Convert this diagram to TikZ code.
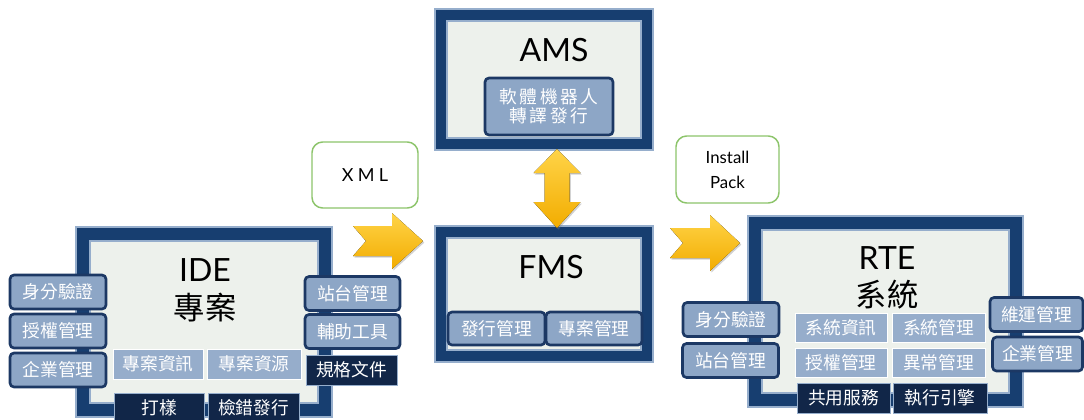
\documentclass[tikz,border=0pt]{standalone}
\usepackage{fontspec}
\setmainfont{Lato}
\newfontfamily\cjk{Noto Sans CJK TC}
\newfontfamily\cjkwide[LetterSpace=15]{Noto Sans CJK TC}
\newfontfamily\spaced[LetterSpace=24]{Lato}
\usetikzlibrary{shadows}

\definecolor{navy}{RGB}{23,62,112}
\definecolor{edge}{RGB}{150,174,204}
\definecolor{panelbg}{RGB}{237,241,236}
\definecolor{steel}{RGB}{141,166,198}
\definecolor{sideline}{RGB}{28,56,100}
\definecolor{flat}{RGB}{150,173,203}
\definecolor{deep}{RGB}{17,38,72}
\definecolor{leaf}{RGB}{140,196,106}
\definecolor{goldtop}{RGB}{255,212,72}
\definecolor{goldbot}{RGB}{242,172,0}

\tikzset{
  wh/.style 2 args={minimum width=#1*0.75pt,minimum height=#2*0.75pt},
  frame/.style={draw=edge,line width=1.4pt,fill=navy,inner sep=0pt},
  panel/.style={draw=edge,line width=1.2pt,fill=panelbg,inner sep=0pt},
  sidebox/.style={draw=sideline,line width=2pt,fill=steel,rounded corners=3pt,text=white,
    font=\cjk\fontsize{13.3}{16}\selectfont,inner sep=0pt},
  flatbox/.style={draw=white,line width=0.6pt,fill=flat,text=white,
    font=\cjk\fontsize{13.3}{16}\selectfont,inner sep=0pt},
  darkbox/.style={draw=edge,line width=0.6pt,fill=deep,text=white,
    font=\cjk\fontsize{13.3}{16}\selectfont,inner sep=0pt},
  title/.style={font=\fontsize{24}{28}\selectfont,inner sep=0pt},
  cjktitle/.style={font=\cjk\fontsize{23.5}{28}\selectfont,inner sep=0pt},
  tag/.style={draw=leaf,line width=1.1pt,fill=white,rounded corners=8pt,inner sep=0pt,align=center},
  goldarrow/.style={top color=goldtop,bottom color=goldbot,draw=none,
    drop shadow={opacity=0.35,shadow xshift=1pt,shadow yshift=-1.2pt}}
}

\begin{document}
\begin{tikzpicture}[x=0.75pt,y=0.75pt,yscale=-1,xscale=1]
\useasboundingbox (0,0) rectangle (1084,419);

%Shape: IDE frame
\node[frame,wh={256}{190}] (ide) at (204,322) {};
\node[panel,wh={228}{162}] (ideIn) at (ide.center) {};
%Shape: AMS frame
\node[frame,wh={218}{141}] (ams) at (544,79.5) {};
\node[panel,wh={194}{117}] (amsIn) at (ams.center) {};
%Shape: FMS frame
\node[frame,wh={218}{136}] (fms) at (544,294) {};
\node[panel,wh={194}{112}] (fmsIn) at (fms.center) {};
%Shape: RTE frame
\node[frame,wh={275}{191}] (rte) at (885.5,311.5) {};
\node[panel,wh={247}{163}] (rteIn) at (rte.center) {};

% Text Node
\node[title] (ideName) at (205,270) {IDE};
\node[cjktitle] (ideSub) at (205,308) {專案};
\node[title] (amsName) at (554,50) {AMS};
\node[title] (fmsName) at (551,267) {FMS};
\node[title] (rteName) at (887,258) {RTE};
\node[cjktitle] (rteSub) at (887,295) {系統};

%IDE modules
\node[sidebox,wh={96}{34}] (ideAuth) at (58,292) {身分驗證};
\node[sidebox,wh={96}{34}] (idePerm) at (58,331) {授權管理};
\node[sidebox,wh={96}{34}] (ideCorp) at (58,370) {企業管理};
\node[sidebox,wh={95}{34}] (ideSite) at (352.5,293.5) {站台管理};
\node[sidebox,wh={95}{34}] (ideTool) at (352.5,331.5) {輔助工具};
\node[darkbox,wh={91}{30}] (ideSpec) at (351.5,370) {規格文件};
\node[flatbox,wh={90}{30}] (ideInfo) at (158,364) {專案資訊};
\node[flatbox,wh={94}{30}] (ideRes) at (254,364) {專案資源};
\node[darkbox,wh={90}{30}] (ideProto) at (159,408) {打樣};
\node[darkbox,wh={91}{30}] (ideCheck) at (253.5,408) {檢錯發行};

%AMS / FMS modules
\node[sidebox,wh={128}{57},align=center,font=\cjkwide\fontsize{13.3}{14.3}\selectfont] (amsBot) at (549,106.5) {軟體機器人\\轉譯發行};
\node[sidebox,wh={97}{33}] (fmsPub) at (496.5,328.5) {發行管理};
\node[sidebox,wh={96}{33}] (fmsProj) at (594,328.5) {專案管理};

%RTE modules
\node[sidebox,wh={96}{34}] (rteAuth) at (731,319.5) {身分驗證};
\node[sidebox,wh={96}{34}] (rteSite) at (730.5,360.5) {站台管理};
\node[sidebox,wh={93}{34}] (rteOps) at (1036.5,314.5) {維運管理};
\node[sidebox,wh={90}{34}] (rteCorp) at (1037.5,354) {企業管理};
\node[flatbox,wh={92}{29}] (rteInfo) at (841,327.5) {系統資訊};
\node[flatbox,wh={93}{29}] (rteMgmt) at (938.5,327.5) {系統管理};
\node[flatbox,wh={92}{29}] (rtePerm) at (841,362.5) {授權管理};
\node[flatbox,wh={93}{29}] (rteExc) at (938.5,362.5) {異常管理};
\node[darkbox,wh={93}{30}] (rteShare) at (843.5,398) {共用服務};
\node[darkbox,wh={94}{30}] (rteEngine) at (940,398) {執行引擎};

%Labels
\node[tag,wh={106}{66},font=\spaced\fontsize{13.5}{16}\selectfont] (xml) at (365,175) {XML};
\node[tag,wh={103}{67},font=\fontsize{12.6}{18.75}\selectfont] (pack) at (727.5,169.5) {Install\\Pack};

%Arrows
\coordinate (arrA) at (353,241);
\coordinate (arrB) at (670,243);
\coordinate (arrC) at (557,149);
\fill[goldarrow] (arrA) ++(0,-15) -- ++(39,0) -- ++(0,-13) -- ++(31,28) -- ++(-31,28) -- ++(0,-13) -- ++(-39,0) -- ++(13,-15) -- cycle;
\fill[goldarrow] (arrB) ++(0,-15) -- ++(40,0) -- ++(0,-13) -- ++(30,28) -- ++(-30,28) -- ++(0,-13) -- ++(-40,0) -- ++(13,-15) -- cycle;
\fill[goldarrow] (arrC) -- ++(23.5,24) -- ++(-11,0) -- ++(0,29) -- ++(11,0) -- ++(-23.5,26) -- ++(-23.5,-26) -- ++(11,0) -- ++(0,-29) -- ++(-11,0) -- cycle;

\end{tikzpicture}
\end{document}
